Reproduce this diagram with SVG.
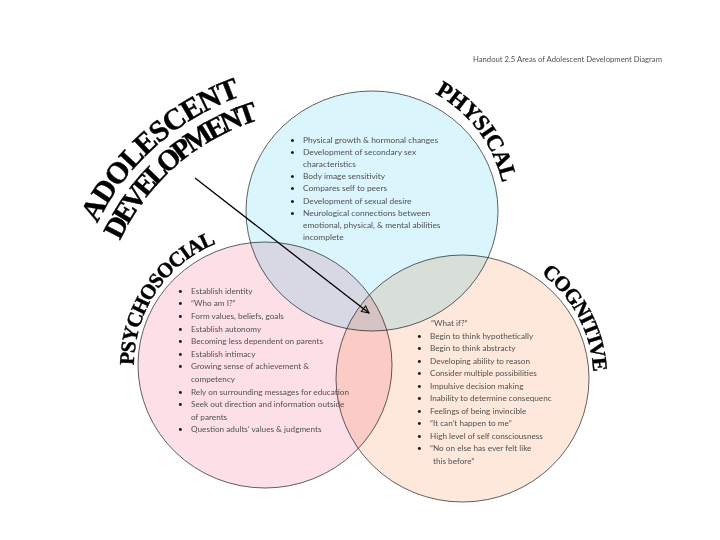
<svg xmlns="http://www.w3.org/2000/svg" width="720" height="540" viewBox="0 0 720 540">
<style>
.c{stroke:#3a3a3a;stroke-width:0.8;mix-blend-mode:multiply}
.t{font-family:Lato,"Liberation Sans",sans-serif;fill:#505050}
.p{font-size:8.4px}
.s{font-size:8.2px}
.h{font-family:"Liberation Serif",serif;font-weight:bold;fill:#000;stroke:#000;stroke-width:0.4}
.b{fill:#1a1a1a}
</style>
<defs>
<path id="arcAdol" d="M86.3,249.1 A254,254 0 0 1 267.9,88.5"/>
<path id="arcDev" d="M106.7,277.5 A226,226 0 0 1 297.5,111.7"/>
<path id="arcPhys" d="M406.4,82.5 A133,133 0 0 1 504.98,213.3"/>
<path id="arcPsy" d="M136,387.7 A131,131 0 0 1 237.8,236.9"/>
<path id="arcCog" d="M511.6,257 A131,131 0 0 1 590.6,405.7"/>
<marker id="ah" viewBox="-1 -5 10 10" markerWidth="10" markerHeight="10" refX="7" refY="0" orient="auto" markerUnits="userSpaceOnUse">
<path d="M0,-3.5 L7,0 L0,3.5 Z" fill="none" stroke="#000" stroke-width="1"/>
</marker>
</defs>
<rect width="720" height="540" fill="#fff"/>
<g id="handout-title">
<text class="t" x="473" y="62" font-size="8" textLength="189" lengthAdjust="spacingAndGlyphs">Handout 2.5 Areas of Adolescent Development Diagram</text>
</g>
<g id="main-title">
<text class="h" font-size="30"><textPath href="#arcAdol" startOffset="50%" text-anchor="middle" textLength="197">ADOLESCENT</textPath></text>
<text class="h" font-size="29"><textPath href="#arcDev" startOffset="50%" text-anchor="middle" textLength="190">DEVELOPMENT</textPath></text>
</g>
<g id="circles">
<ellipse id="physical-circle" class="c" cx="372" cy="211" rx="126" ry="120" fill="#daf5fc"/>
<ellipse id="psychosocial-circle" class="c" cx="265" cy="365" rx="127" ry="123" fill="#fde0e7"/>
<ellipse id="cognitive-circle" class="c" cx="462.5" cy="378.5" rx="126.5" ry="123.5" fill="#fde8db"/>
</g>
<g id="physical">
<text class="h" font-size="23"><textPath href="#arcPhys" startOffset="50%" text-anchor="middle" textLength="115">PHYSICAL</textPath></text>
<g class="t p">
<text class="b" x="290" y="142.5">•</text><text x="303" y="142.5">Physical growth &amp; hormonal changes</text>
<text class="b" x="290" y="154.7">•</text><text x="303" y="154.7">Development of secondary sex</text>
<text x="303" y="166.9">characteristics</text>
<text class="b" x="290" y="179.1">•</text><text x="303" y="179.1">Body image sensitivity</text>
<text class="b" x="290" y="191.3">•</text><text x="303" y="191.3">Compares self to peers</text>
<text class="b" x="290" y="203.5">•</text><text x="303" y="203.5">Development of sexual desire</text>
<text class="b" x="290" y="215.7">•</text><text x="303" y="215.7">Neurological connections between</text>
<text x="303" y="227.9">emotional, physical, &amp; mental abilities</text>
<text x="303" y="240.1">incomplete</text>
</g>
</g>
<g id="psychosocial">
<text class="h" font-size="21"><textPath href="#arcPsy" startOffset="50%" text-anchor="middle" textLength="156">PSYCHOSOCIAL</textPath></text>
<g class="t s">
<text class="b" x="178" y="293.7">•</text><text x="191" y="293.7">Establish identity</text>
<text class="b" x="178" y="306.3">•</text><text x="191" y="306.3">“Who am I?”</text>
<text class="b" x="178" y="318.9">•</text><text x="191" y="318.9">Form values, beliefs, goals</text>
<text class="b" x="178" y="331.5">•</text><text x="191" y="331.5">Establish autonomy</text>
<text class="b" x="178" y="344.1">•</text><text x="191" y="344.1">Becoming less dependent on parents</text>
<text class="b" x="178" y="356.7">•</text><text x="191" y="356.7">Establish intimacy</text>
<text class="b" x="178" y="369.3">•</text><text x="191" y="369.3">Growing sense of achievement &amp;</text>
<text x="191" y="381.9">competency</text>
<text class="b" x="178" y="394.5">•</text><text x="191" y="394.5">Rely on surrounding messages for education</text>
<text class="b" x="178" y="407.1">•</text><text x="191" y="407.1">Seek out direction and information outside</text>
<text x="191" y="419.7">of parents</text>
<text class="b" x="178" y="432.3">•</text><text x="191" y="432.3">Question adults’ values &amp; judgments</text>
</g>
</g>
<g id="cognitive">
<text class="h" font-size="21"><textPath href="#arcCog" startOffset="50%" text-anchor="middle" textLength="115">COGNITIVE</textPath></text>
<g class="t s">
<text x="431" y="326.3">“What if?”</text>
<text class="b" x="417" y="338.8">•</text><text x="430" y="338.8">Begin to think hypothetically</text>
<text class="b" x="417" y="351.3">•</text><text x="430" y="351.3">Begin to think abstracty</text>
<text class="b" x="417" y="363.8">•</text><text x="430" y="363.8">Developing ability to reason</text>
<text class="b" x="417" y="376.3">•</text><text x="430" y="376.3">Consider multiple possibilities</text>
<text class="b" x="417" y="388.8">•</text><text x="430" y="388.8">Impulsive decision making</text>
<text class="b" x="417" y="401.3">•</text><text x="430" y="401.3">Inability to determine consequenc</text>
<text class="b" x="417" y="413.8">•</text><text x="430" y="413.8">Feelings of being invincible</text>
<text class="b" x="417" y="426.3">•</text><text x="430" y="426.3">“It can’t happen to me”</text>
<text class="b" x="417" y="438.8">•</text><text x="430" y="438.8">High level of self consciousness</text>
<text class="b" x="417" y="451.3">•</text><text x="430" y="451.3">“No on else has ever felt like</text>
<text x="433" y="463.8">this before”</text>
</g>
</g>
<g id="connectors">
<line x1="195" y1="178" x2="369" y2="313" stroke="#000" stroke-width="1.3" marker-end="url(#ah)"/>
</g>
</svg>
